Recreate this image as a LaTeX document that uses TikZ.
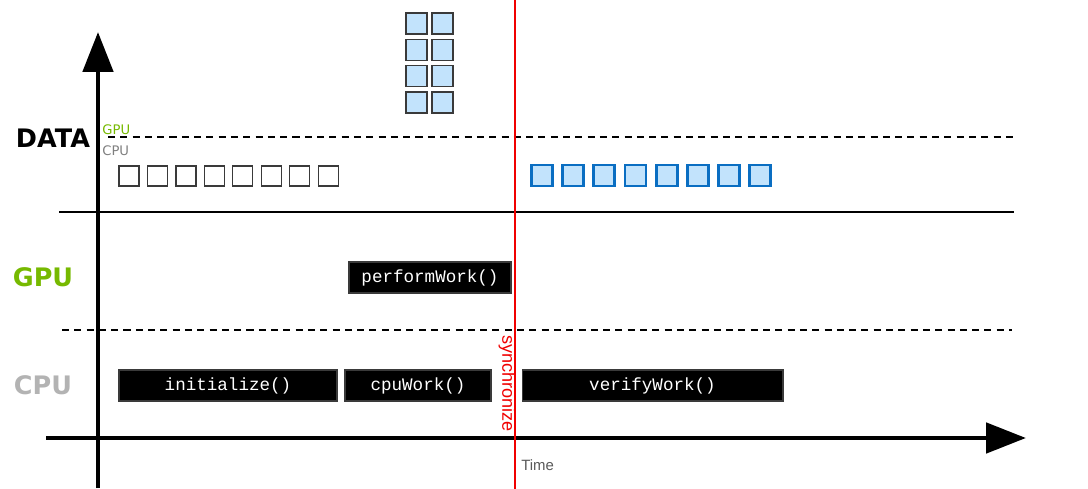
\documentclass[tikz,border=0pt]{standalone}
\usepackage{fontspec}
\setsansfont{DejaVu Sans}
\setmonofont{Liberation Mono}
\newfontfamily\arialfont{Liberation Sans}
\usetikzlibrary{arrows.meta, positioning}
\definecolor{cgpu}{HTML}{76B900}
\definecolor{ccpu}{HTML}{B3B3B3}
\definecolor{ctag}{HTML}{7F7F7F}
\definecolor{ctime}{HTML}{595959}
\definecolor{cblue}{HTML}{0A6EC2}
\definecolor{cfill}{HTML}{C2E3FC}
\definecolor{cedge}{HTML}{3A3A3A}
\definecolor{csync}{HTML}{F00000}

\begin{document}
\begin{tikzpicture}[x=0.02cm, y=-0.02cm,
  lane/.style={font=\fontsize{14.5}{16}\sffamily\bfseries, text=#1, inner sep=0pt},
  tag/.style={font=\fontsize{7.5}{9}\sffamily, text=#1, inner sep=0pt, anchor=west},
  task/.style={fill=black, draw=cedge, line width=0.6pt, text=white,
               font=\fontsize{10}{12}\ttfamily, minimum width=#1,
               minimum height=0.62cm, inner sep=0pt},
  hostsq/.style={draw=cedge, fill=white, line width=0.7pt, minimum size=0.4cm, inner sep=0pt},
  devsq/.style={draw=cblue, fill=cfill, line width=1.6pt, minimum size=0.42cm, inner sep=0pt},
  gridsq/.style={draw=cedge, fill=cfill, line width=0.9pt, minimum size=0.42cm, inner sep=0pt},
  sep/.style={line width=1pt, dash pattern=on 4pt off 3pt},
  axis/.style={line width=2.8pt, -{Triangle[length=0.8cm, width=0.6cm]}}
]
\useasboundingbox (0,0) rectangle (1088,489);

%% ── Lane labels
\node[lane=black] (data) at (53,138) {DATA};
\node[lane=cgpu]  (gpu)  at (43,277) {GPU};
\node[lane=ccpu]  (cpu)  at (43,385) {CPU};
\node[tag=cgpu] (tgpu) at (102,130) {GPU};
\node[tag=ctag] (tcpu) at (102,151) {CPU};

%% ── Lane separators
\coordinate (d1) at (108,137);  \coordinate (d2) at (1015,137);
\coordinate (m1) at (59,212);   \coordinate (m2) at (1014,212);
\coordinate (g1) at (62,330);   \coordinate (g2) at (1012,330);
\draw[sep] (d1) -- (d2);
\draw[line width=1pt] (m1) -- (m2);
\draw[sep] (g1) -- (g2);

%% ── Data blocks
\foreach \i in {0,...,7}{
  \node[hostsq] (h\i) at ({129+28.45*\i},176) {};
  \node[devsq]  (b\i) at ({542+31.15*\i},175.5) {};
}
\foreach \r in {0,...,3}{
  \node[gridsq] (q\r a) at (416.5,{23.5+26.3*\r}) {};
  \node[gridsq] (q\r b) at (442.5,{23.5+26.3*\r}) {};
}

%% ── Work items
\node[task=3.24cm] (perf) at (430,277.5) {performWork()};
\node[task=4.36cm] (init) at (228,385.5) {initialize()};
\node[task=2.92cm] (cpuw) at (418,385.5) {cpuWork()};
\node[task=5.22cm] (veri) at (652.5,385.5) {verifyWork()};

%% ── Axes
\coordinate (yb) at (98,488);  \coordinate (yt) at (98,32);
\coordinate (xl) at (46,438);  \coordinate (xr) at (1026,438);
\draw[axis] (yb) -- (yt);
\draw[axis] (xl) -- (xr);
\node[font=\fontsize{8.5}{10}\arialfont, text=ctime, anchor=west, inner sep=0pt]
  (time) at (521,465) {Time};

%% ── Synchronize marker
\coordinate (s1) at (515,0);  \coordinate (s2) at (515,489);
\draw[csync, line width=1.2pt] (s1) -- (s2);
\node[font=\fontsize{10.3}{12}\arialfont, text=csync, rotate=-90, inner sep=0pt]
  (sync) at (507,383.5) {synchronize};

\end{tikzpicture}
\end{document}
